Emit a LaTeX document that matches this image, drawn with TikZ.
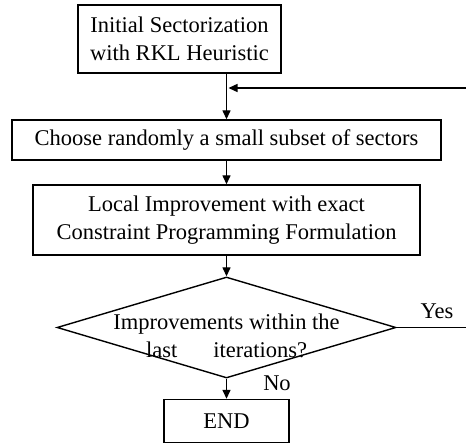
\documentclass[tikz,border=0pt]{standalone}
\usepackage{fontspec}
\setmainfont{Liberation Serif}
\usetikzlibrary{shapes.geometric,arrows.meta}
\begin{document}
\begin{tikzpicture}[x=1pt,y=-1pt,
  every node/.style={font=\fontsize{22.5}{27.5}\selectfont},
  stepbox/.style={draw,line width=1.4pt,inner sep=0pt,align=center},
  link/.style={line width=1.4pt,-{Triangle[length=9pt,width=8pt]}},
  plain/.style={line width=1.4pt}]
\useasboundingbox (0,0) rectangle (466,443);
\node[stepbox,minimum width=203pt,minimum height=68pt] (init) at (179.5,39) {Initial Sectorization\\with RKL Heuristic};
\node[stepbox,minimum width=429pt,minimum height=40pt] (choose) at (226.5,140) {Choose randomly a small subset of sectors};
\node[stepbox,minimum width=387pt,minimum height=70pt] (local) at (226.5,220) {Local Improvement with exact\\Constraint Programming Formulation};
\node[diamond,draw,line width=1.4pt,inner sep=0pt,minimum width=339pt,minimum height=101pt] (dia) at (226.5,327.5) {};
\node[align=center,inner sep=0pt] (diatext) at (226.5,336) {Improvements within the\\last\hspace{1.6em}iterations?};
\node[stepbox,minimum width=125pt,minimum height=43pt] (end) at (226.5,421) {END};
\coordinate (join) at (226.5,88);
\coordinate (fb) at (466,88);
\coordinate (yesend) at (466,327.5);
\draw[plain] (init.south -| join) -- (join);
\draw[link] (join) -- (choose.north);
\draw[link] (fb) -- ([xshift=2pt]join);
\draw[link] (choose.south) -- (local.north);
\draw[link] (local.south) -- (dia.north);
\draw[link] (dia.south) -- (end.north);
\draw[plain] (dia.east) -- (yesend);
\node[anchor=center] (yes) at (437,311) {Yes};
\node[anchor=center] (no) at (277,383) {No};
\end{tikzpicture}
\end{document}
